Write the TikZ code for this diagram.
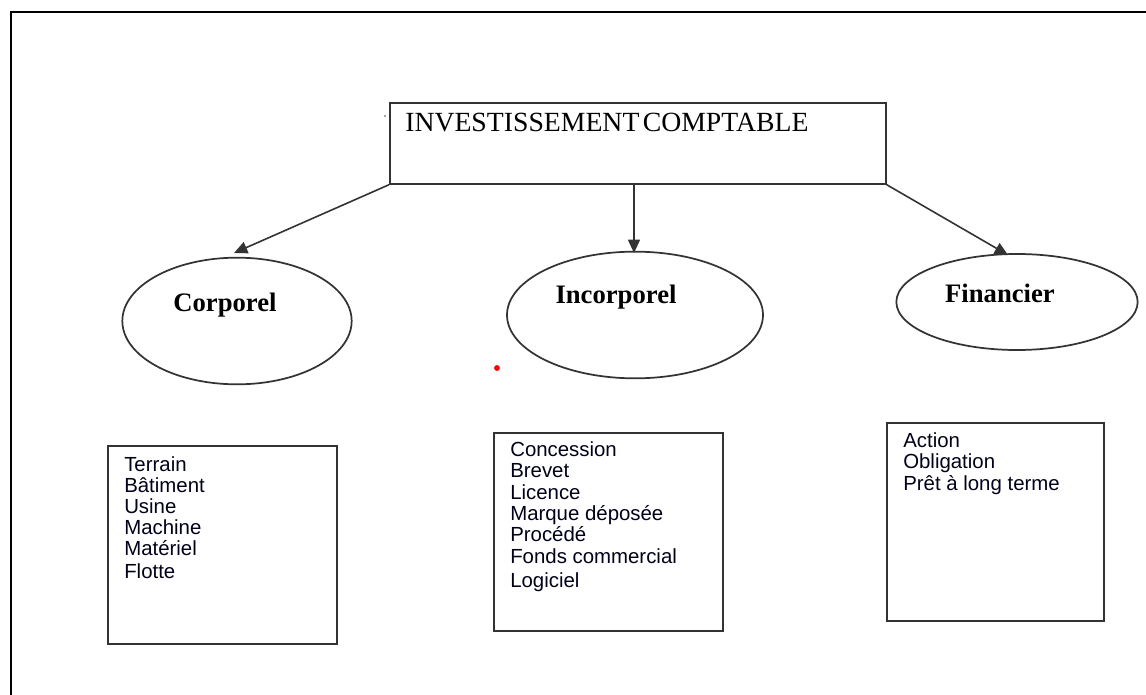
\documentclass[tikz,border=0pt]{standalone}
\usepackage{fontspec}
\setmainfont{Liberation Serif}
\newfontfamily\arialf{Liberation Sans}
\usetikzlibrary{shapes.geometric,arrows.meta}
\tikzset{
  boxline/.style={draw=black!80, line width=1.3pt},
  ell/.style={ellipse, draw=black!80, line width=1.3pt, inner sep=0pt},
  arr/.style={draw=black!80, line width=1.2pt, -{Triangle[length=10pt,width=9pt]}},
  item/.style={anchor=base west, inner sep=0pt, font=\arialf\fontsize{15.3}{16}\selectfont, text=black!90!blue},
  elab/.style={anchor=base, inner sep=0pt, font=\bfseries\fontsize{20}{22}\selectfont},
}
\begin{document}
\begin{tikzpicture}[x=0.75pt,y=-0.75pt]
\useasboundingbox (0,0) rectangle (1146,695);
% outer frame
\draw[line width=1.6pt] (11,695) -- (11,12) -- (1146,12);
% title box
\node[boxline, minimum width=372pt, minimum height=60.75pt, anchor=north west, inner sep=0pt] (title) at (389,102) {};
\node[anchor=base west, inner sep=0pt, font=\fontsize{20.8}{22}\selectfont] (titletext) at (405,132) {INVESTISSEMENT\hspace{0.12em}COMPTABLE};
% tiny marks
\fill[black!70] (385,116) circle (0.7pt);
\fill[red] (497,368) circle (2.2pt);
% ellipses
\node[ell, minimum width=172pt, minimum height=95pt] (corp) at (237,321) {};
\node[ell, minimum width=192pt, minimum height=95pt] (incorp) at (635,315) {};
\node[ell, minimum width=181pt, minimum height=72pt] (fin) at (1017,302) {};
\node[elab] (corpl) at (225,311) {Corporel};
\node[elab] (incorpl) at (616,304) {Incorporel};
\node[elab] (finl) at (1000,303) {Financier};
% arrows
\coordinate (t1) at (234,253);
\coordinate (t2) at (634,253);
\coordinate (t3) at (1008,255);
\coordinate (m) at (634,183);
\draw[arr] (title.south west) -- (t1);
\draw[arr] (m) -- (t2);
\draw[arr] (title.south east) -- (t3);
% boxes
\node[boxline, minimum width=171.75pt, minimum height=148.5pt, anchor=north west, inner sep=0pt] (cbox) at (107,445) {};
\node[boxline, minimum width=171.75pt, minimum height=148.5pt, anchor=north west, inner sep=0pt] (ibox) at (493,432) {};
\node[boxline, minimum width=162.75pt, minimum height=148.5pt, anchor=north west, inner sep=0pt] (fbox) at (886,422) {};
% items
\node[item] (c1) at (124,471) {Terrain};
\node[item] (c2) at (124,492) {Bâtiment};
\node[item] (c3) at (124,513) {Usine};
\node[item] (c4) at (124,534) {Machine};
\node[item] (c5) at (124,555) {Matériel};
\node[item] (c6) at (124,578) {Flotte};
\node[item] (i1) at (510,456) {Concession};
\node[item] (i2) at (510,477) {Brevet};
\node[item] (i3) at (510,499) {Licence};
\node[item] (i4) at (510,520) {Marque déposée};
\node[item] (i5) at (510,541) {Procédé};
\node[item] (i6) at (510,563) {Fonds commercial};
\node[item] (i7) at (510,587) {Logiciel};
\node[item] (f1) at (903,447) {Action};
\node[item] (f2) at (903,468) {Obligation};
\node[item] (f3) at (903,490) {Prêt à long terme};
\end{tikzpicture}
\end{document}
